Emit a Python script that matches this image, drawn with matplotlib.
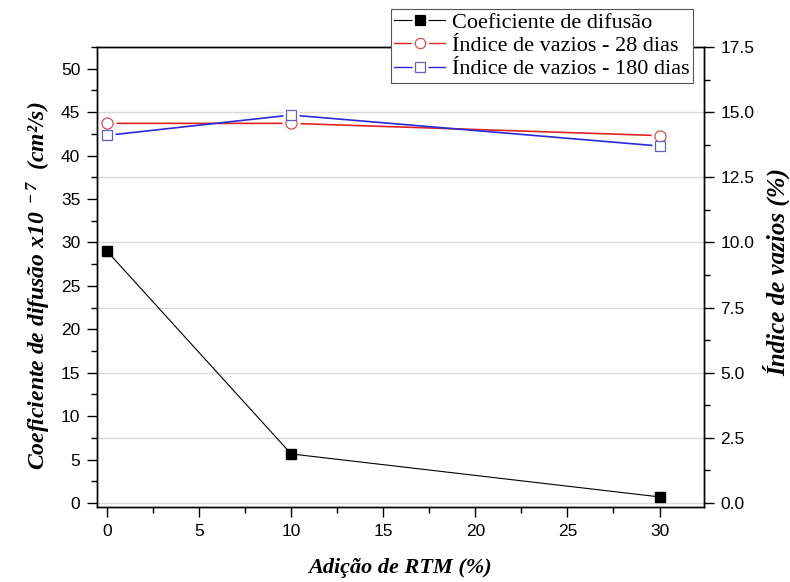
import matplotlib
matplotlib.use("Agg")
import matplotlib.pyplot as plt
from matplotlib.lines import Line2D
from matplotlib.legend_handler import HandlerTuple
from matplotlib.ticker import MultipleLocator, FormatStrFormatter

# RTM addition (%) and measured values
rtm = [0, 10, 30]
coef_difusao = [29.0, 5.65, 0.7]          # x10^-7 cm²/s
vazios_28 = [14.57, 14.57, 14.10]         # %
vazios_180 = [14.11, 14.89, 13.70]        # %

plt.rcParams["font.family"] = ["Liberation Sans", "DejaVu Sans"]
plt.rcParams["mathtext.default"] = "regular"

serif = ["Liberation Serif", "DejaVu Serif"]


def label_font(size):
    return dict(family=serif, weight="bold", style="italic", size=size)


fig = plt.figure(figsize=(7.9, 5.82), dpi=100)
ax1 = fig.add_axes([0.1228, 0.1289, 0.768, 0.7903])
ax2 = ax1.twinx()

# keep the diffusion axis on top, gridlines come from the right axis
ax1.set_zorder(ax2.get_zorder() + 1)
ax1.patch.set_visible(False)
ax2.patch.set_facecolor("white")

red = "#e02424"
blue = "#2a2ad8"
red_edge = "#d85050"
blue_edge = "#6060c8"

# diffusion coefficient
ax1.plot(rtm, coef_difusao, color="black", lw=0.8, marker="s", ms=7,
         mfc="black", mec="black")

# void index, lines stop short of the hollow markers
ax2.plot(rtm, vazios_28, color=red, lw=1.2)
ax2.plot(rtm, vazios_180, color=blue, lw=1.2)
ax2.plot(rtm, vazios_28, ls="none", marker="o", ms=13, mfc="white", mec="none", zorder=3)
ax2.plot(rtm, vazios_180, ls="none", marker="s", ms=12, mfc="white", mec="none", zorder=3)
ax2.plot(rtm, vazios_28, ls="none", marker="o", ms=8, mfc="white", mec=red_edge,
         mew=0.9, zorder=4)
ax2.plot(rtm, vazios_180, ls="none", marker="s", ms=7.5, mfc="white", mec=blue_edge,
         mew=0.9, zorder=4)

ax1.set_xlim(-0.54, 32.4)
ax1.set_ylim(-0.46, 52.5)
ax2.set_ylim(-0.46 / 3, 17.5)

ax1.xaxis.set_major_locator(MultipleLocator(5))
ax1.xaxis.set_minor_locator(MultipleLocator(2.5))
ax1.yaxis.set_major_locator(MultipleLocator(5))
ax1.yaxis.set_minor_locator(MultipleLocator(2.5))
ax2.yaxis.set_major_locator(MultipleLocator(2.5))
ax2.yaxis.set_minor_locator(MultipleLocator(1.25))
ax2.yaxis.set_major_formatter(FormatStrFormatter("%.1f"))

for ax in (ax1, ax2):
    ax.tick_params(which="major", direction="out", length=7, width=1.0,
                   labelsize=12.5, pad=5)
    ax.tick_params(which="minor", direction="out", length=4.5, width=1.0)
    for sp in ax.spines.values():
        sp.set_linewidth(1.0)
ax1.tick_params(axis="x", which="both", top=False)

ax2.grid(True, which="major", axis="y", color="#d9d9d9", lw=1.0)
ax2.set_axisbelow(True)

ax1.set_xlabel("Adição de RTM (%)", labelpad=14, **label_font(16))
ax1.set_ylabel("Coeficiente de difusão x10$^{\\ -7}$  (cm²/s)", **label_font(17))
ax1.yaxis.set_label_coords(-0.072, 0.48)
ax2.set_ylabel("Índice de vazios (%)", **label_font(18))
ax2.yaxis.set_label_coords(1.097, 0.51)


# legend entries: line with a gap around the marker
def entry(color, marker, ms, face, edge):
    line = Line2D([], [], color=color, lw=1.0 if color != "black" else 0.8)
    halo = Line2D([], [], ls="none", marker=marker, ms=ms + 5, mfc="white", mec="none")
    mark = Line2D([], [], ls="none", marker=marker, ms=ms, mfc=face, mec=edge, mew=0.9)
    return (line, halo, mark)


handles = [entry("black", "s", 6.5, "black", "black"),
           entry(red, "o", 7.5, "white", red_edge),
           entry(blue, "s", 7, "white", blue_edge)]
labels = ["Coeficiente de difusão", "Índice de vazios - 28 dias",
          "Índice de vazios - 180 dias"]

leg = fig.legend(handles, labels, loc="upper right",
                 handler_map={tuple: HandlerTuple(ndivide=1)},
                 bbox_to_anchor=(693 / 790, 1 - 9 / 582), bbox_transform=fig.transFigure,
                 borderaxespad=0, prop=dict(family=serif, size=16), handlelength=2.3,
                 handletextpad=0.3, labelspacing=0.12, borderpad=0.15, fancybox=False,
                 framealpha=1, edgecolor="#555555")
leg.get_frame().set_linewidth(0.8)

fig.savefig("out.png", dpi=100)
